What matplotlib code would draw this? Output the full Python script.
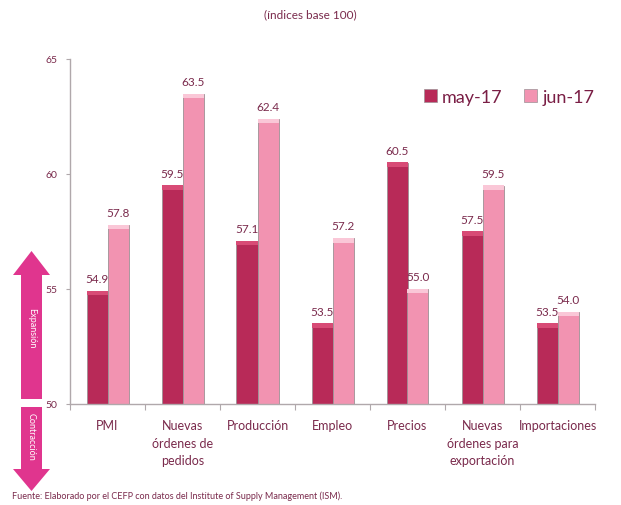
import matplotlib
matplotlib.use("Agg")
import numpy as np
import matplotlib.pyplot as plt
from matplotlib.patches import FancyArrow, Patch

plt.rcParams['font.family'] = ['Lato', 'DejaVu Sans']

categories = ["PMI", "Nuevas\nórdenes de\npedidos", "Producción", "Empleo",
              "Precios", "Nuevas\nórdenes para\nexportación", "Importaciones"]
may_17 = [54.9, 59.5, 57.1, 53.5, 60.5, 57.5, 53.5]
jun_17 = [57.8, 63.5, 62.4, 57.2, 55.0, 59.5, 54.0]
series_names = ["may-17", "jun-17"]
yticks = [50, 55, 60, 65]

col_may = "#B82A58"
col_may_top = "#D84B76"
col_jun = "#F293B1"
col_jun_top = "#FAC7D7"
txt_col = "#7A2A4C"
axis_col = "#B0A8AB"

fig = plt.figure(figsize=(6.21, 5.06), dpi=100)
ax = fig.add_axes([70/621, 101/506, 525/621, 345/506])

x = np.arange(len(categories))
w = 0.28
base = 50
cap = 0.18

for vals, off, c, ctop in [(may_17, -w/2, col_may, col_may_top),
                           (jun_17, w/2, col_jun, col_jun_top)]:
    h = np.array(vals) - base
    ax.bar(x + off, h, w, bottom=base, color=c, edgecolor="#9C9195", linewidth=0.6, zorder=2)
    ax.bar(x + off, [cap] * len(vals), w, bottom=np.array(vals) - cap, color=ctop,
           edgecolor="none", zorder=3)
    for xi, v in zip(x + off, vals):
        ax.text(xi, v + 0.3, f"{v:.1f}", ha="center", va="bottom", fontsize=8.5, color=txt_col)

ax.set_xlim(-0.5, len(categories) - 0.5)
ax.set_ylim(50, 65)
ax.set_yticks(yticks)
ax.set_yticklabels([str(t) for t in yticks], fontsize=7.5, color=txt_col)
ax.set_xticks(np.arange(-0.5, len(categories), 1.0))
ax.set_xticklabels([])
ax.set_xticks(x, minor=True)
ax.set_xticklabels(categories, minor=True, fontsize=9, color=txt_col, va="top",
                   linespacing=1.55)
ax.tick_params(axis="x", which="minor", length=0, pad=11)
ax.tick_params(axis="x", which="major", length=4, color=axis_col)
ax.tick_params(axis="y", length=3, color=axis_col, pad=6)
for s in ["top", "right"]:
    ax.spines[s].set_visible(False)
for s in ["left", "bottom"]:
    ax.spines[s].set_color(axis_col)
    ax.spines[s].set_linewidth(1.0)

handles = [Patch(facecolor=col_may, edgecolor="#9C9195", linewidth=0.5),
           Patch(facecolor=col_jun, edgecolor="#9C9195", linewidth=0.5)]
ax.legend(handles, series_names, loc="center right", bbox_to_anchor=(1.03, 0.89), ncol=2,
          frameon=False, fontsize=13, handlelength=0.7, handleheight=0.7,
          handletextpad=0.3, columnspacing=1.2, labelcolor="#7A1E45")

# overlay in pixel coordinates for arrows and notes
ov = fig.add_axes([0, 0, 1, 1], zorder=-1)
ov.set_xlim(0, 621)
ov.set_ylim(506, 0)
ov.axis("off")
arrow_col = "#E0358E"
ov.add_patch(FancyArrow(31.5, 400, 0, -148, width=21, head_width=37, head_length=24,
                        length_includes_head=True, color=arrow_col, linewidth=0))
ov.add_patch(FancyArrow(31.5, 408, 0, 84, width=21, head_width=37, head_length=22,
                        length_includes_head=True, color=arrow_col, linewidth=0))
ov.text(31.5, 328, "Expansión", rotation=-90, ha="center", va="center", fontsize=6.5, color="white")
ov.text(31.5, 437, "Contracción", rotation=-90, ha="center", va="center", fontsize=6.5, color="white")

fig.text(310/621, 1 - 15/506, "(índices base 100)", ha="center", va="center",
         fontsize=8.5, color="#7A2A4C")
fig.text(12/621, 1 - 496/506,
         "Fuente: Elaborado por el CEFP con datos del Institute of Supply Management (ISM).",
         ha="left", va="center", fontsize=6.5, color="#7A2A4C")

fig.savefig("out.png", dpi=100)
